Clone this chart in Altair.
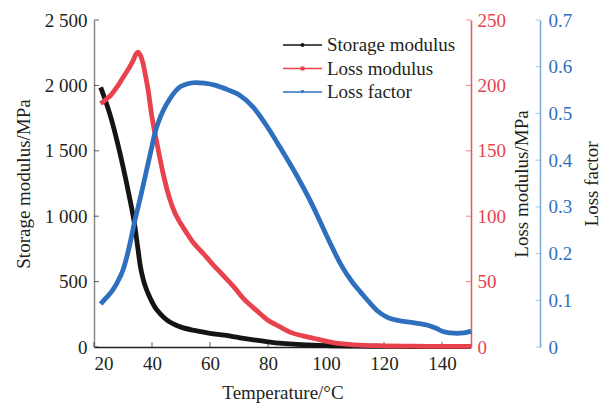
import altair as alt
import pandas as pd

# ---- data -----------------------------------------------------------------
series_names = ["Storage modulus", "Loss modulus", "Loss factor"]

storage_T = [22.3, 24, 26, 28, 30, 32, 34, 35, 36, 37, 38, 39, 40, 41, 42, 44, 46,
             48, 50, 55, 60, 65, 70, 75, 80, 85, 90, 95, 100, 110, 120, 130, 140, 150]
storage_val = [1985, 1880, 1740, 1570, 1380, 1170, 935, 775, 615, 515, 445, 392, 345,
               305, 275, 228, 193, 170, 152, 125, 105, 90, 72, 55, 40, 28, 20, 15, 11,
               7, 5, 4, 3, 3]

loss_T = [22.3, 24, 26, 28, 30, 32, 33.5, 34.5, 35.2, 36, 37, 37.8, 38.7, 39.9, 41.6,
          44, 46, 48, 50, 52, 54, 56.6, 58.5, 61, 64, 68, 72, 76, 80, 84, 88,
          92, 96, 100, 105, 110, 120, 130, 140, 150]
loss_val = [186, 189, 193, 199, 206, 213, 219, 224, 225.5, 223, 216, 207, 196, 177, 157,
            131, 114, 102, 94, 87, 80.5, 74, 69.5, 63, 56, 46.5, 36, 28, 20.5, 15.5, 11,
            8.5, 6.5, 4.5, 2.5, 1.6, 0.9, 0.6, 0.5, 0.5]

factor_T = [22.3, 24, 26, 28, 30, 32, 34, 36, 38, 40, 41, 42, 44, 46, 48, 50, 52, 55,
            58, 62, 66, 70, 74.8, 79.7, 84.1, 90, 95.6, 98, 102.4, 105, 109.3, 112,
            115.2, 118, 121, 124, 127.9, 131, 134.8, 138, 140.3, 143, 145, 147.5, 150]
factor_val = [0.092, 0.104, 0.118, 0.138, 0.165, 0.210, 0.268, 0.320, 0.375, 0.430,
              0.458, 0.478, 0.508, 0.530, 0.547, 0.558, 0.563, 0.566, 0.565, 0.560,
              0.551, 0.540, 0.514, 0.472, 0.428, 0.366, 0.300, 0.268, 0.210, 0.178,
              0.137, 0.117, 0.094, 0.076, 0.064, 0.058, 0.054, 0.051, 0.047, 0.040,
              0.033, 0.030, 0.029, 0.030, 0.034]

x_ticks = [20, 40, 60, 80, 100, 120, 140]
storage_ticks = [0, 500, 1000, 1500, 2000, 2500]
loss_ticks = [0, 50, 100, 150, 200, 250]
factor_ticks = [0, 0.1, 0.2, 0.3, 0.4, 0.5, 0.6, 0.7]

# ---- style ----------------------------------------------------------------
FONT = "Liberation Serif"
INK = "#231f20"
BLACK = "#141414"
RED = "#e8424c"
BLUE = "#2e6fbe"
LEFT_AXIS = "#8a8a8a"
RED_AXIS = "#e8555e"
BLUE_AXIS = "#7ea9dc"
FS = 19
W, H = 377, 327
BLUE_OFFSET = 69
TICK = 5
LINE_W = 4.8

x_scale = alt.Scale(domain=[20, 150], nice=False, zero=False)
s_scale = alt.Scale(domain=[0, 2500], nice=False)
l_scale = alt.Scale(domain=[0, 250], nice=False)
f_scale = alt.Scale(domain=[0, 0.7], nice=False)

x_axis = alt.Axis(values=x_ticks, title="Temperature/°C", domainColor=INK,
                  labelPadding=7.5, titleY=51, titleBaseline="alphabetic")
s_axis = alt.Axis(values=storage_ticks, title="Storage modulus/MPa",
                  domainColor=LEFT_AXIS, labelPadding=7,
                  labelExpr="replace(format(datum.value, ','), ',', ' ')",
                  titleAngle=270, titleBaseline="alphabetic", titleX=-65)
l_axis = alt.Axis(orient="right", values=loss_ticks, title="Loss modulus/MPa",
                  domainColor=RED_AXIS, labelColor=RED, labelPadding=6,
                  titleAngle=270, titleBaseline="alphabetic", titleX=56)
f_axis = alt.Axis(orient="right", offset=BLUE_OFFSET, values=factor_ticks, format="~g",
                  title="Loss factor", domainColor=BLUE_AXIS, labelColor=BLUE,
                  labelPadding=8, titleAngle=270, titleBaseline="alphabetic", titleX=57)

storage_df = pd.DataFrame({"T": storage_T, "v": storage_val})
loss_df = pd.DataFrame({"T": loss_T, "v": loss_val})
factor_df = pd.DataFrame({"T": factor_T, "v": factor_val})


def curve(df, color, scale, axis):
    return alt.Chart(df).mark_line(
        color=color, strokeWidth=LINE_W, interpolate="monotone"
    ).encode(
        x=alt.X("T:Q", scale=x_scale, axis=x_axis),
        y=alt.Y("v:Q", scale=scale, axis=axis),
    )


def inward_ticks(values, scale, axis, x_px, color):
    # short ticks drawn on the inner side of a vertical axis
    return alt.Chart(pd.DataFrame({"v": values})).mark_tick(
        color=color, size=TICK, thickness=1
    ).encode(y=alt.Y("v:Q", scale=scale, axis=axis), x=alt.value(x_px))


# short ticks drawn on the inner side of the temperature axis
x_tick_marks = alt.Chart(pd.DataFrame({"T": x_ticks})).mark_tick(
    color=INK, size=TICK, thickness=1
).encode(x=alt.X("T:Q", scale=x_scale, axis=x_axis), y=alt.value(H - TICK / 2))

storage_layer = alt.layer(
    curve(storage_df, BLACK, s_scale, s_axis),
    inward_ticks(storage_ticks, s_scale, s_axis, TICK / 2, INK),
    x_tick_marks,
)
loss_layer = alt.layer(
    curve(loss_df, RED, l_scale, l_axis),
    inward_ticks(loss_ticks, l_scale, l_axis, W - TICK / 2, RED_AXIS),
)
factor_layer = alt.layer(
    curve(factor_df, BLUE, f_scale, f_axis),
    inward_ticks(factor_ticks, f_scale, f_axis, W + BLUE_OFFSET - 2, BLUE_AXIS),
)

# legend: short line with a marker, then the series name
LEG_Y0, LEG_DY = 25, 23.5
legend_df = pd.DataFrame({
    "series": series_names,
    "ly": [LEG_Y0 + i * LEG_DY for i in range(len(series_names))],
})
leg_color = alt.Color("series:N", scale=alt.Scale(domain=series_names,
                                                   range=[BLACK, RED, BLUE]), legend=None)
leg_y = alt.Y("ly:Q", scale=None, axis=None)
leg_base = alt.Chart(legend_df)
legend = alt.layer(
    leg_base.mark_rule(strokeWidth=1.5).encode(
        x=alt.value(189), x2=alt.value(228), y=leg_y, color=leg_color),
    leg_base.mark_point(filled=True, opacity=1, size=16).encode(
        x=alt.value(208.5), y=leg_y, color=leg_color,
        shape=alt.Shape("series:N", scale=alt.Scale(
            domain=series_names, range=["circle", "square", "triangle-down"]), legend=None)),
    leg_base.mark_text(align="left", baseline="middle", font=FONT, fontSize=FS,
                       color=INK).encode(x=alt.value(233), y=leg_y, text="series:N"),
)

chart = alt.layer(storage_layer, loss_layer, factor_layer, legend).resolve_scale(
    y="independent"
).properties(
    width=W, height=H,
    autosize=alt.AutoSizeParams(type="none"),
    padding={"left": 94, "top": 20, "right": 130, "bottom": 59},
    background="white",
).configure_view(stroke=None).configure_axis(
    labelFont=FONT, titleFont=FONT, labelFontSize=FS, titleFontSize=FS,
    titleFontWeight="normal", labelColor=INK, titleColor=INK,
    grid=False, ticks=False, tickSize=0, domainWidth=1.5,
)

chart.save("out.html", embed_options={"renderer": "svg", "actions": False})
